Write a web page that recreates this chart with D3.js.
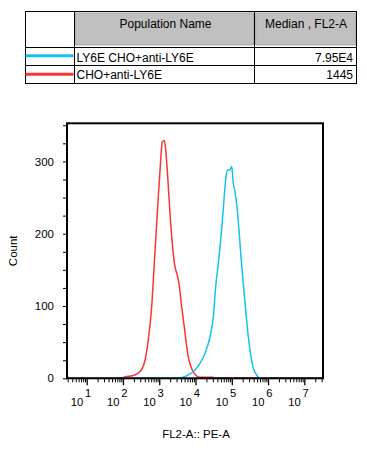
<!DOCTYPE html>
<html>
<head>
<meta charset="utf-8">
<script src="https://cdn.jsdelivr.net/npm/d3@7"></script>
<style>
  html, body { margin: 0; padding: 0; background: #fff; }
  svg { display: block; font-family: "Liberation Sans", Arial, sans-serif; }
</style>
</head>
<body>
<svg id="chart" width="367" height="453"></svg>
<script>
// ---------- data ----------
const populations = ["LY6E CHO+anti-LY6E", "CHO+anti-LY6E"];
const medians = ["7.95E4", "1445"];
const seriesColors = ["#12c3ee", "#f83434"];
const tableHeaders = ["Population Name", "Median , FL2-A"];

// FL2-A value (x) and count (y)
const redX = [2.9, 3.4, 83, 114, 215, 328, 405, 499, 619, 731, 851, 942, 1069, 1214, 1380, 1507, 1711, 1981, 2291, 2721, 3090, 3508, 4162, 4909, 5715, 6617, 8166, 10800, 13300, 30300, 34400, 3.2e7];
const redY = [3, 0, 0, 2, 4.6, 12, 25, 53, 99, 159, 214, 251, 293, 327, 329, 316, 279, 228, 187, 154, 144, 131, 99, 71, 44, 25, 11.5, 3, 1.5, 1.5, 0.5, 0.3];

const blueX = [2.9, 2716, 4238, 6324, 9680, 13300, 18280, 25120, 30980, 36070, 42490, 50430, 59850, 69310, 77230, 89360, 99560, 110200, 122700, 139300, 158100, 179500, 207800, 242100, 285600, 338800, 392100, 486400, 562300, 680500, 3.2e7];
const blueY = [0, 0.5, 1, 4.6, 11.5, 20.7, 34.6, 57.5, 85, 127, 159, 196, 242, 279, 288, 288, 293, 270, 258, 237, 205, 168, 131, 94, 57.5, 30, 14, 4.6, 1, 0, 0];

const yTicks = [0, 25, 50, 75, 100, 125, 150, 175, 200, 225, 250, 275, 300, 325, 350];
const yLabelTicks = [0, 100, 200, 300];
const xDecades = [0, 1, 2, 3, 4, 5, 6, 7];
const xLabelDecades = [1, 2, 3, 4, 5, 6, 7];
const xTitle = "FL2-A:: PE-A";
const yTitle = "Count";

// ---------- layout ----------
const FONT = '"Liberation Sans", Arial, sans-serif';
const svg = d3.select("#chart");
const plot = { left: 67, right: 323, top: 123.3, bottom: 378.3 };

const x = d3.scaleLog().domain([Math.pow(10, 0.457), Math.pow(10, 7.515)]).range([plot.left, plot.right]);
const y = d3.scaleLinear().domain([0, 352.7]).range([plot.bottom, plot.top]);

// ---------- table ----------
const tbl = svg.append("g");
const T = { l: 25.5, r: 356.5, t: 11.5, hb: 47.5, r1: 65.5, b: 83.5, c1: 74.5, c2: 254.5 };
[[T.c1 + 1.2, T.c2 - 0.5], [T.c2 + 1.2, T.r - 1.2]].forEach(([a, b]) => {
  tbl.append("rect").attr("x", a).attr("y", 13).attr("width", b - a).attr("height", 32)
    .attr("fill", "#c0c0c0").attr("stroke", "#9a9a9a").attr("stroke-width", 0.8);
});
tbl.append("rect").attr("x", T.l).attr("y", T.t).attr("width", T.r - T.l).attr("height", T.b - T.t)
  .attr("fill", "none").attr("stroke", "#000").attr("stroke-width", 1);
[[T.c1, T.t, T.c1, T.b], [T.c2, T.t, T.c2, T.b], [T.l, T.hb, T.r, T.hb], [T.l, T.r1, T.r, T.r1]].forEach(d => {
  tbl.append("line").attr("x1", d[0]).attr("y1", d[1]).attr("x2", d[2]).attr("y2", d[3])
    .attr("stroke", "#000").attr("stroke-width", 1);
});
tbl.append("text").attr("x", (T.c1 + T.c2) / 2 + 1).attr("y", 27.7).attr("text-anchor", "middle")
  .attr("font-size", 12).text(tableHeaders[0]);
tbl.append("text").attr("x", (T.c2 + T.r) / 2 + 0.5).attr("y", 27.7).attr("text-anchor", "middle")
  .attr("font-size", 12).text(tableHeaders[1]);
const rowBase = [61.6, 79.4];
const rowLine = [55.8, 74.2];
populations.forEach((p, i) => {
  tbl.append("line").attr("x1", T.l).attr("x2", T.c1 - 1).attr("y1", rowLine[i]).attr("y2", rowLine[i])
    .attr("stroke", seriesColors[i]).attr("stroke-width", 3);
  tbl.append("text").attr("x", 76.5).attr("y", rowBase[i]).attr("font-size", 12).text(p);
  tbl.append("text").attr("x", 353).attr("y", rowBase[i]).attr("text-anchor", "end").attr("font-size", 12).text(medians[i]);
});

// ---------- axes ----------
svg.append("g").attr("transform", `translate(${plot.left},0)`)
  .call(d3.axisLeft(y).tickValues(yTicks).tickSize(4).tickPadding(9)
    .tickFormat(d => yLabelTicks.includes(d) ? d : ""))
  .call(g => g.select(".domain").remove())
  .call(g => g.selectAll("text").attr("font-size", 11.5).attr("fill", "#000").style("font-family", FONT))
  .call(g => g.selectAll("line").attr("stroke", "#000").attr("stroke-width", 1));

const [d0, d1] = x.domain();
const minorVals = [];
xDecades.forEach(k => {
  for (let m = 2; m <= 9; m++) {
    const v = m * Math.pow(10, k);
    if (v >= d0 && v <= d1) minorVals.push(v);
  }
});
const majorVals = xLabelDecades.map(k => Math.pow(10, k));
svg.append("g").attr("transform", `translate(0,${plot.bottom})`)
  .call(d3.axisBottom(x).tickValues(minorVals).tickSize(4).tickFormat(""))
  .call(g => g.select(".domain").remove())
  .call(g => g.selectAll("line").attr("stroke", "#000").attr("stroke-width", 1));
const xMaj = svg.append("g").attr("transform", `translate(0,${plot.bottom})`)
  .call(d3.axisBottom(x).tickValues(majorVals).tickSize(7).tickFormat(""))
  .call(g => g.select(".domain").remove())
  .call(g => g.selectAll("line").attr("stroke", "#000").attr("stroke-width", 1.3));
xMaj.selectAll(".tick").each(function(d) {
  const t = d3.select(this).append("text")
    .attr("x", -6.3).attr("y", 27.4).attr("fill", "#000").attr("font-size", 11.2)
    .style("font-family", FONT);
  t.append("tspan").text("10");
  t.append("tspan").attr("dx", 1.8).attr("dy", -9).text(Math.round(Math.log10(d)));
});

// ---------- curves ----------
svg.append("clipPath").attr("id", "clip").append("rect")
  .attr("x", plot.left).attr("y", plot.top).attr("width", plot.right - plot.left).attr("height", plot.bottom - plot.top);
const line = d3.line().x(d => x(d[0])).y(d => y(d[1])).curve(d3.curveMonotoneX);
const curves = svg.append("g").attr("clip-path", "url(#clip)");
curves.append("path").datum(d3.zip(redX, redY)).attr("d", line)
  .attr("fill", "none").attr("stroke", seriesColors[1]).attr("stroke-width", 1.5);
curves.append("path").datum(d3.zip(blueX, blueY)).attr("d", line)
  .attr("fill", "none").attr("stroke", seriesColors[0]).attr("stroke-width", 1.5);

svg.append("rect").attr("x", plot.left).attr("y", plot.top).attr("width", plot.right - plot.left)
  .attr("height", plot.bottom - plot.top).attr("fill", "none").attr("stroke", "#000").attr("stroke-width", 2);

svg.append("text").attr("x", 196).attr("y", 437.7).attr("text-anchor", "middle").attr("font-size", 11.5).text(xTitle);
svg.append("text").attr("transform", `translate(17.3,${(plot.top + plot.bottom) / 2}) rotate(-90)`)
  .attr("text-anchor", "middle").attr("font-size", 11.5).text(yTitle);
</script>
</body>
</html>
